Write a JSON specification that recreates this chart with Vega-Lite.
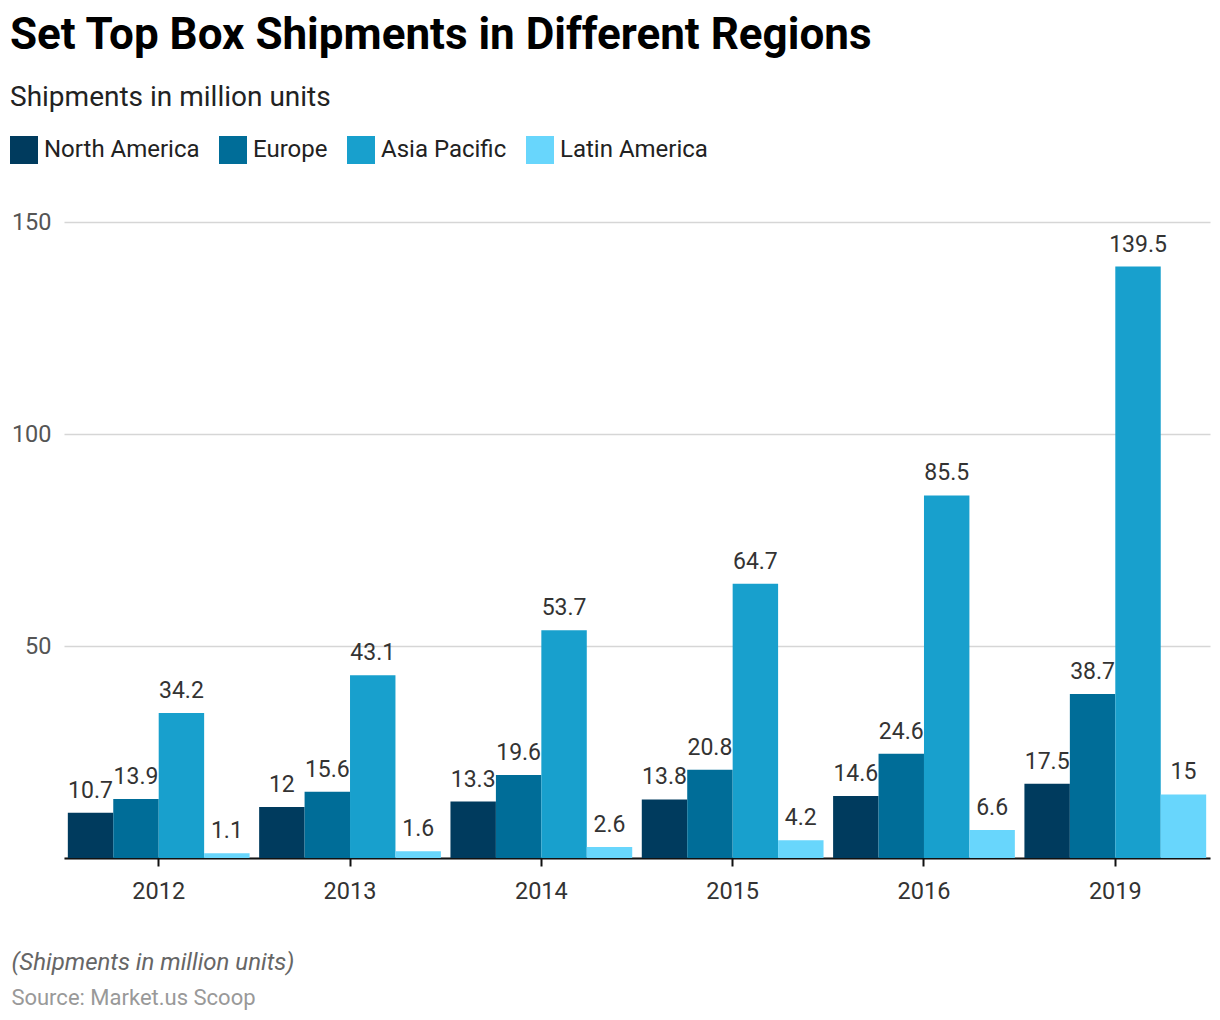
{
  "$schema": "https://vega.github.io/schema/vega-lite/v6.json",
  "padding": {"left": 10, "right": 10, "top": 14, "bottom": 10},
  "background": "white",
  "config": {
    "font": "Roboto",
    "view": {"stroke": null},
    "concat": {"spacing": 0}
  },
  "title": {
    "text": "Set Top Box Shipments in Different Regions",
    "subtitle": "Shipments in million units",
    "anchor": "start",
    "frame": "bounds",
    "font": "Roboto",
    "fontSize": 44,
    "fontWeight": "bold",
    "color": "#000000",
    "subtitleFont": "Roboto",
    "subtitleFontSize": 28,
    "subtitleColor": "#222222",
    "subtitlePadding": 26,
    "offset": 24
  },
  "data": {
    "values": [
      {"year": "2012", "region": "North America", "value": 10.7},
      {"year": "2012", "region": "Europe", "value": 13.9},
      {"year": "2012", "region": "Asia Pacific", "value": 34.2},
      {"year": "2012", "region": "Latin America", "value": 1.1},
      {"year": "2013", "region": "North America", "value": 12},
      {"year": "2013", "region": "Europe", "value": 15.6},
      {"year": "2013", "region": "Asia Pacific", "value": 43.1},
      {"year": "2013", "region": "Latin America", "value": 1.6},
      {"year": "2014", "region": "North America", "value": 13.3},
      {"year": "2014", "region": "Europe", "value": 19.6},
      {"year": "2014", "region": "Asia Pacific", "value": 53.7},
      {"year": "2014", "region": "Latin America", "value": 2.6},
      {"year": "2015", "region": "North America", "value": 13.8},
      {"year": "2015", "region": "Europe", "value": 20.8},
      {"year": "2015", "region": "Asia Pacific", "value": 64.7},
      {"year": "2015", "region": "Latin America", "value": 4.2},
      {"year": "2016", "region": "North America", "value": 14.6},
      {"year": "2016", "region": "Europe", "value": 24.6},
      {"year": "2016", "region": "Asia Pacific", "value": 85.5},
      {"year": "2016", "region": "Latin America", "value": 6.6},
      {"year": "2019", "region": "North America", "value": 17.5},
      {"year": "2019", "region": "Europe", "value": 38.7},
      {"year": "2019", "region": "Asia Pacific", "value": 139.5},
      {"year": "2019", "region": "Latin America", "value": 15}
    ]
  },
  "vconcat": [
    {
      "width": 1146,
      "height": 636,
      "title": {
        "text": "(Shipments in million units)",
        "subtitle": "Source: Market.us Scoop",
        "orient": "bottom",
        "anchor": "start",
        "frame": "bounds",
        "fontSize": 24,
        "fontStyle": "italic",
        "fontWeight": "normal",
        "color": "#666666",
        "subtitleFontSize": 22,
        "subtitleColor": "#999999",
        "subtitlePadding": 13,
        "offset": 48
      },
      "encoding": {
        "x": {
          "field": "year",
          "type": "nominal",
          "scale": {"paddingInner": 0.05, "paddingOuter": 0.02},
          "axis": {
            "title": null,
            "labelAngle": 0,
            "labelFontSize": 23.5,
            "labelColor": "#333333",
            "labelPadding": 13,
            "domainColor": "#111111",
            "domainWidth": 2,
            "tickColor": "#111111",
            "tickWidth": 2,
            "tickSize": 8
          }
        },
        "xOffset": {
          "field": "region",
          "type": "nominal",
          "sort": ["North America", "Europe", "Asia Pacific", "Latin America"],
          "scale": {"paddingInner": 0, "paddingOuter": 0}
        },
        "y": {
          "field": "value",
          "type": "quantitative",
          "scale": {"domain": [0, 150]},
          "axis": {
            "title": null,
            "values": [0, 50, 100, 150],
            "labelExpr": "datum.value == 0 ? '' : datum.label",
            "labelFontSize": 23.5,
            "labelColor": "#555555",
            "labelPadding": 13,
            "domain": false,
            "ticks": false,
            "gridColor": "#d6d6d6",
            "gridWidth": 1.5
          }
        }
      },
      "layer": [
        {
          "mark": {"type": "bar"},
          "encoding": {
            "color": {
              "field": "region",
              "type": "nominal",
              "sort": ["North America", "Europe", "Asia Pacific", "Latin America"],
              "scale": {
                "domain": ["North America", "Europe", "Asia Pacific", "Latin America"],
                "range": ["#003b5e", "#006d98", "#18a0cd", "#68d6fc"]
              },
              "legend": {
                "title": null,
                "orient": "none",
                "legendX": -54,
                "legendY": -86,
                "direction": "horizontal",
                "symbolType": "square",
                "symbolSize": 784,
                "symbolStrokeWidth": 0,
                "labelFontSize": 24,
                "labelColor": "#222222",
                "labelOffset": 6,
                "columnPadding": 19,
                "padding": 0
              }
            }
          }
        },
        {
          "mark": {"type": "text", "baseline": "bottom", "dy": -10, "fontSize": 23, "color": "#333333"},
          "encoding": {
            "text": {"field": "value", "type": "quantitative"}
          }
        }
      ]
    }
  ]
}
